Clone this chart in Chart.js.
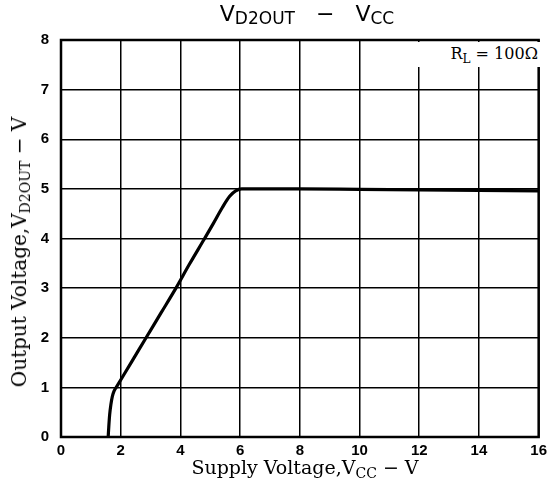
<!DOCTYPE html>
<html>
<head>
<meta charset="utf-8">
<script src="https://cdn.jsdelivr.net/npm/chart.js@4/dist/chart.umd.min.js"></script>
<style>
  html, body { margin: 0; padding: 0; background: #fff; }
  #wrap { position: relative; width: 552px; height: 495px; }
  canvas { position: absolute; left: 0; top: 0; }
  .lbl { position: absolute; white-space: nowrap; color: #000; }
  #title { left: 0; width: 614px; top: 1px; text-align: center; font-family: "DejaVu Sans", sans-serif; font-size: 22px; }
  #title sub { font-size: 17px; vertical-align: -3px; }
  #xtitle { left: 0; width: 610px; top: 456px; text-align: center; font-family: "DejaVu Serif", serif; font-size: 19px; }
  #ytitle { left: 19px; top: 252px; transform: translate(-50%, -50%) rotate(-90deg); font-family: "DejaVu Serif", serif; font-size: 20px; }
  sub { font-size: 14px; vertical-align: -4px; line-height: 0; }
  #rl { left: 417px; top: 42px; width: 126px; height: 25px; background: #fff; font-family: "DejaVu Serif", serif; font-size: 16px; text-align: right; line-height: 24px; }
  #rl sub { font-size: 12px; }
</style>
</head>
<body>
<div id="wrap">
  <canvas id="c" width="552" height="495"></canvas>
  <div class="lbl" id="title">V<sub>D2OUT</sub>&nbsp;&nbsp;&nbsp;−&nbsp;&nbsp;&nbsp;V<sub>CC</sub></div>
  <div class="lbl" id="rl">R<sub>L</sub> = 100Ω&nbsp;</div>
  <div class="lbl" id="xtitle">Supply Voltage,V<sub>CC</sub> − V</div>
  <div class="lbl" id="ytitle">Output Voltage,V<sub>D2OUT</sub> − V</div>
</div>
<script>
const supplyVoltage = [1.58, 1.60, 1.63, 1.67, 1.72, 1.78, 1.85, 2.35, 2.85, 3.35, 3.85, 4.30, 4.78, 5.10, 5.40, 5.65, 5.85, 6.05, 6.40, 8, 10, 12, 14, 16];
const outputVoltage = [0.00, 0.20, 0.45, 0.65, 0.82, 0.93, 1.00, 1.50, 2.00, 2.50, 3.00, 3.48, 3.97, 4.30, 4.62, 4.85, 4.96, 5.00, 5.00, 5.00, 4.99, 4.98, 4.97, 4.96];
const xTicks = [0, 2, 4, 6, 8, 10, 12, 14, 16];
const yTicks = [0, 1, 2, 3, 4, 5, 6, 7, 8];

const points = supplyVoltage.map((x, i) => ({ x: x, y: outputVoltage[i] }));

const frame = {
  id: 'frame',
  afterDraw(chart) {
    const a = chart.chartArea, ctx = chart.ctx;
    ctx.save();
    ctx.strokeStyle = '#000';
    ctx.lineWidth = 2.5;
    ctx.strokeRect(a.left, a.top, a.right - a.left, a.bottom - a.top);
    ctx.restore();
  }
};

new Chart(document.getElementById('c'), {
  type: 'scatter',
  data: {
    datasets: [{
      data: points,
      showLine: true,
      borderColor: '#000',
      borderWidth: 3.2,
      pointRadius: 0,
      tension: 0.3,
      cubicInterpolationMode: 'monotone'
    }]
  },
  options: {
    responsive: false,
    animation: false,
    layout: { padding: { left: 0, top: 40, right: 7, bottom: 0 } },
    plugins: { legend: { display: false }, tooltip: { enabled: false } },
    scales: {
      x: {
        type: 'linear', min: 0, max: 16,
        afterBuildTicks: s => { s.ticks = xTicks.map(v => ({ value: v })); },
        afterFit: s => { s.height = 58; },
        grid: { color: '#000', lineWidth: 1.5, drawTicks: false },
        border: { display: false },
        ticks: { color: '#000', padding: 5, font: { family: 'Liberation Sans', size: 15, weight: 'bold' } }
      },
      y: {
        type: 'linear', min: 0, max: 8,
        afterBuildTicks: s => { s.ticks = yTicks.map(v => ({ value: v })); },
        afterFit: s => { s.width = 61; },
        grid: { color: '#000', lineWidth: 1.5, drawTicks: false },
        border: { display: false },
        ticks: { color: '#000', padding: 12, font: { family: 'Liberation Sans', size: 15, weight: 'bold' } }
      }
    }
  },
  plugins: [frame]
});
</script>
</body>
</html>
